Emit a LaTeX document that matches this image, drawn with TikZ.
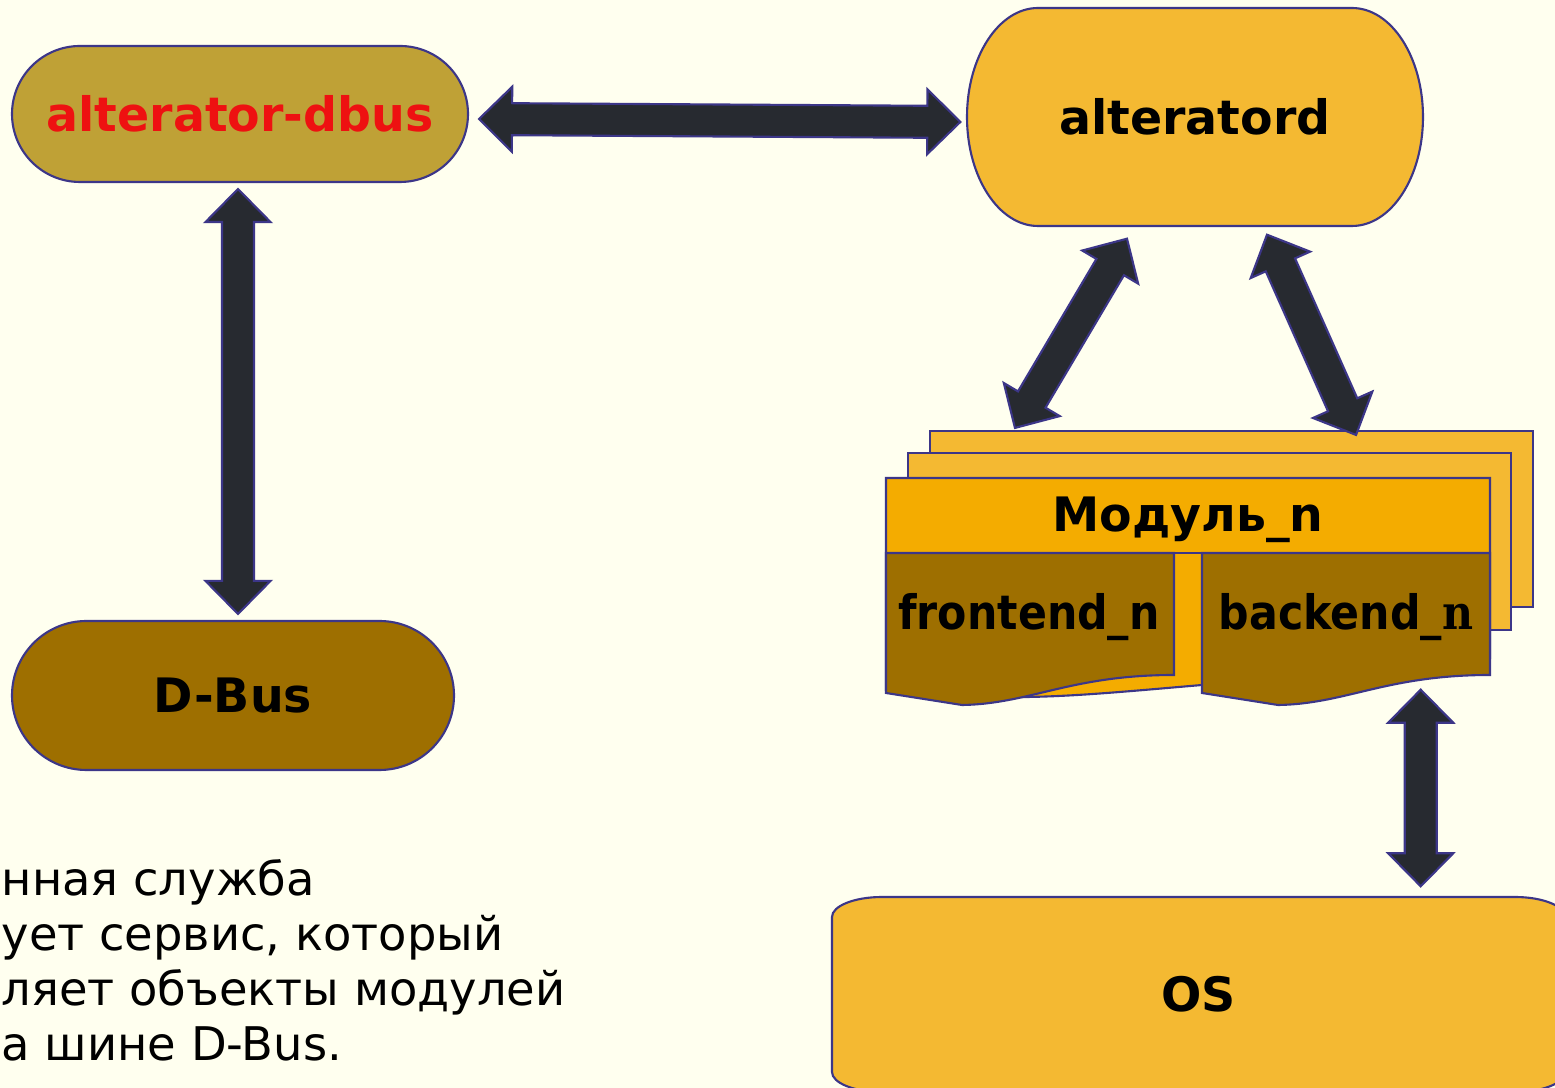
\documentclass[tikz,border=0pt]{standalone}
\usepackage{fontspec}
\setmainfont{DejaVu Sans}
\newfontfamily\serifn{DejaVu Serif}
\usetikzlibrary{calc}

\definecolor{paper}{HTML}{FFFFEF}
\definecolor{dbusolive}{HTML}{BFA136}
\definecolor{gold}{HTML}{F4B932}
\definecolor{amber}{HTML}{F4AC00}
\definecolor{dbusbrown}{HTML}{9E6F00}
\definecolor{ink}{HTML}{3C3688}
\definecolor{slate}{HTML}{272A30}
\definecolor{alertred}{HTML}{EE1111}

\tikzset{
  box/.style={inner sep=0pt, font=\fontsize{13.5}{16}\selectfont\bfseries},
  outline/.style={draw=ink, line width=0.6pt},
  pill/.style={box, outline},
  note/.style={inner sep=0pt, font=\fontsize{13.2}{15.6}\selectfont},
  arrowbody/.style={fill=slate, draw=ink, line width=0.6pt, line join=miter},
}

\newcommand{\dblarrow}[2]{%
  \path (#1) coordinate (t1) (#2) coordinate (t2);
  \path ($(t1)!0.33cm!(t2)$) coordinate (h1) ($(t2)!0.33cm!(t1)$) coordinate (h2);
  \filldraw[arrowbody] (t1)
    -- ($(h1)!0.325cm!90:(t2)$) -- ($(h1)!0.16cm!90:(t2)$)
    -- ($(h2)!0.16cm!-90:(t1)$) -- ($(h2)!0.325cm!-90:(t1)$)
    -- (t2)
    -- ($(h2)!0.325cm!90:(t1)$) -- ($(h2)!0.16cm!90:(t1)$)
    -- ($(h1)!0.16cm!-90:(t2)$) -- ($(h1)!0.325cm!-90:(t2)$)
    -- cycle;}

\begin{document}
\begin{tikzpicture}
\useasboundingbox (0,0) rectangle (15.55,10.88);
\fill[paper] (0,0) rectangle (15.55,10.88);

\node[pill, fill=dbusolive, rounded corners=0.68cm, minimum width=4.56cm, minimum height=1.36cm, text=alertred] (adbus) at (2.40,9.74) {alterator-dbus};
\node[pill, fill=dbusbrown, rounded corners=0.745cm, minimum width=4.42cm, minimum height=1.49cm] (dbus) at (2.33,3.925) {D-Bus};

\filldraw[outline, fill=gold] (10.38,10.80) -- (13.52,10.80) arc[start angle=90, end angle=-90, x radius=0.71, y radius=1.09]
  -- (10.38,8.62) arc[start angle=270, end angle=90, x radius=0.71, y radius=1.09] -- cycle;
\node[box, minimum width=4.56cm, minimum height=2.18cm] (alteratord) at (11.95,9.71) {alteratord};

\node[outline, fill=gold, minimum width=6.03cm, minimum height=1.76cm, inner sep=0pt] (mod3) at (12.315,5.69) {};
\node[outline, fill=gold, minimum width=6.03cm, minimum height=1.77cm, inner sep=0pt] (mod2) at (12.095,5.465) {};
\filldraw[outline, fill=amber] (8.86,6.10) -- (14.90,6.10) -- (14.90,4.30) .. controls (13.6,4.25) and (12.6,4.05) .. (12.02,4.03)
  .. controls (11.2,3.96) and (10.6,3.90) .. (10.0,3.91) -- (8.86,3.98) -- cycle;
\draw[outline] (8.86,5.35) -- (14.90,5.35);
\node[box, minimum width=6.04cm, minimum height=0.75cm] (mod) at (11.88,5.685) {Модуль\_n};

\filldraw[outline, fill=dbusbrown] (8.86,5.35) -- (11.74,5.35) -- (11.74,4.13) .. controls (10.7,4.13) and (10.3,3.84) .. (9.62,3.83) -- (8.86,3.95) -- cycle;
\node[box, minimum width=2.88cm, minimum height=1.22cm] (front) at (10.29,4.71) {\scalebox{0.9}[1]{frontend\_n}};
\filldraw[outline, fill=dbusbrown] (12.02,5.35) -- (14.90,5.35) -- (14.90,4.13) .. controls (13.86,4.13) and (13.46,3.84) .. (12.78,3.83) -- (12.02,3.95) -- cycle;
\node[box, minimum width=2.88cm, minimum height=1.22cm] (back) at (13.46,4.71) {\scalebox{0.9}[1]{backend\_{\serifn n}}};

\filldraw[outline, fill=gold] (8.82,1.91) -- (15.15,1.91) arc[start angle=90, end angle=0, x radius=0.5, y radius=0.2]
  -- (15.65,0.16) arc[start angle=0, end angle=-90, x radius=0.5, y radius=0.2]
  -- (8.82,-0.04) arc[start angle=270, end angle=180, x radius=0.5, y radius=0.2]
  -- (8.32,1.71) arc[start angle=180, end angle=90, x radius=0.5, y radius=0.2] -- cycle;
\node[box, minimum width=7.33cm, minimum height=1.95cm] (os) at (11.985,0.935) {OS};

\foreach \txt [count=\i] in {{нная служба},{ует сервис, который},{ляет объекты модулей},{а шине D-Bus.}}
  \node[note, anchor=base west] (note\i) at (0.01,{1.92-0.55*(\i-1)}) {\txt};

\dblarrow{$(adbus.east)+(0.10,-0.05)$}{$(alteratord.west)+(-0.06,-0.05)$}
\dblarrow{$(adbus.south)+(-0.02,-0.06)$}{$(dbus.north)+(0.05,0.06)$}
\dblarrow{$(alteratord.south)+(-0.68,-0.12)$}{$(mod3.north west)+(0.86,0.02)$}
\dblarrow{$(alteratord.south)+(0.72,-0.08)$}{$(mod3.north east)+(-1.78,-0.05)$}
\dblarrow{$(back.south east)+(-0.70,-0.11)$}{$(os.north east)+(-1.45,0.10)$}
\end{tikzpicture}
\end{document}
